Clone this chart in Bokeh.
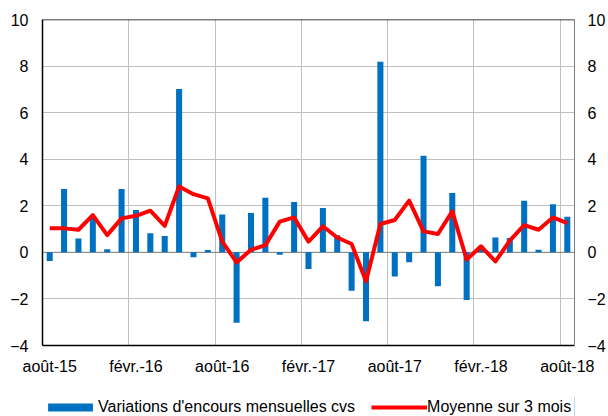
from bokeh.plotting import figure
from bokeh.layouts import column
from bokeh.models import (Range1d, LinearAxis, FixedTicker, Grid, Span, Legend,
                          LegendItem, ColumnDataSource)
from bokeh.embed import file_html
from bokeh.resources import INLINE

# --- data -------------------------------------------------------------
month_abbr = ["janv.", "févr.", "mars", "avr.", "mai", "juin",
              "juil.", "août", "sept.", "oct.", "nov.", "déc."]
months = []
for yy in (15, 16, 17, 18):
    for m in month_abbr:
        months.append(f"{m}-{yy}")
months = months[7:7 + 37]  # août-15 .. août-18

bar_values = [-0.37, 2.72, 0.59, 1.49, 0.13, 2.72, 1.82, 0.82, 0.70, 7.02,
              -0.21, 0.10, 1.63, -3.02, 1.69, 2.35, -0.10, 2.16, -0.72, 1.90,
              0.74, -1.65, -2.96, 8.19, -1.04, -0.43, 4.15, -1.46, 2.55, -2.05,
              0.28, 0.64, 0.62, 2.22, 0.11, 2.07, 1.53]
avg_values = [1.03, 1.03, 0.97, 1.60, 0.74, 1.46, 1.57, 1.79, 1.14, 2.83,
              2.50, 2.32, 0.46, -0.43, 0.11, 0.31, 1.32, 1.50, 0.46, 1.12,
              0.64, 0.36, -1.24, 1.22, 1.39, 2.22, 0.90, 0.79, 1.76, -0.31,
              0.26, -0.39, 0.50, 1.17, 0.97, 1.50, 1.26]
y_ticks = [-4, -2, 0, 2, 4, 6, 8, 10]
label_step = 6

bar_name = "Variations d'encours mensuelles cvs"
avg_name = "Moyenne sur 3 mois"

BAR_COLOR = "#0070c0"
LINE_COLOR = "#ff0000"
FONT = "Liberation Sans"

# --- main chart -------------------------------------------------------
x_idx = list(range(len(months)))
src = ColumnDataSource(dict(x=x_idx, month=months, bar=bar_values, avg=avg_values))

p = figure(width=608, height=396, output_backend="svg", toolbar_location=None,
           x_range=Range1d(-0.5, len(months) - 0.5),
           y_range=Range1d(min(y_ticks), max(y_ticks)),
           x_axis_type=None, y_axis_type=None,
           min_border_left=42, min_border_right=32, min_border_top=19,
           min_border_bottom=51)
p.outline_line_color = None
p.background_fill_color = "white"
p.border_fill_color = "white"

label_ticks = x_idx[::label_step]
boundary_ticks = [i - 0.5 for i in label_ticks[1:]]

p.add_layout(Grid(dimension=1, ticker=FixedTicker(ticks=y_ticks),
                  grid_line_color="#c0c0c0", grid_line_width=1))
p.add_layout(Grid(dimension=0, ticker=FixedTicker(ticks=boundary_ticks),
                  grid_line_color="#c0c0c0", grid_line_width=1))

bars = p.vbar(x="x", top="bar", width=0.42, source=src,
              fill_color=BAR_COLOR, line_color=None)
p.add_layout(Span(location=0, dimension="width", line_color="#808080",
                  line_width=1, level="underlay"))
line = p.line(x="x", y="avg", source=src, line_color=LINE_COLOR,
              line_width=4, line_join="round")


def style_axis(ax, standoff):
    ax.major_tick_out = 0
    ax.major_tick_in = 0
    ax.minor_tick_out = 0
    ax.minor_tick_in = 0
    ax.major_label_standoff = standoff
    ax.major_label_text_font = FONT
    ax.major_label_text_font_size = "16px"
    ax.major_label_text_color = "#000000"


xaxis = LinearAxis(ticker=FixedTicker(ticks=label_ticks),
                   major_label_overrides={i: months[i] for i in label_ticks})
style_axis(xaxis, 12)
xaxis.axis_line_color = "black"
xaxis.axis_line_width = 1.5
p.add_layout(xaxis, "below")

yl = LinearAxis(ticker=FixedTicker(ticks=y_ticks))
style_axis(yl, 14)
yl.axis_line_color = "black"
yl.axis_line_width = 1.5
p.add_layout(yl, "left")

yr = LinearAxis(ticker=FixedTicker(ticks=y_ticks))
style_axis(yr, 13)
yr.axis_line_color = "#808080"
yr.axis_line_width = 1
p.add_layout(yr, "right")

p.add_layout(Span(location=max(y_ticks), dimension="width",
                  line_color="black", line_width=1.5))

# --- legend strip (its frame is aligned with the chart's frame) -------
lg = figure(width=608, height=20, output_backend="svg", toolbar_location=None,
            x_range=Range1d(0, 1), y_range=Range1d(0, 1),
            x_axis_type=None, y_axis_type=None, min_border=0)
lg.outline_line_color = None
lg.background_fill_color = "white"
lg.border_fill_color = "white"
# legend swatches: one point each, placed outside the strip's visible range
lbar = lg.vbar(x=[5], top=[1], width=0.5, fill_color=BAR_COLOR, line_color=None)
lline = lg.line(x=[5, 6], y=[0, 0], line_color=LINE_COLOR, line_width=4)

legend = Legend(items=[LegendItem(label=bar_name, renderers=[lbar]),
                       LegendItem(label=avg_name, renderers=[lline])],
                orientation="horizontal", location=(0, 0),
                padding=0, margin=0, spacing=16,
                glyph_width=56, glyph_height=10, label_standoff=0,
                label_text_font=FONT, label_text_font_size="16px",
                label_text_color="#000000", label_height=10,
                border_line_color=None, background_fill_alpha=0)
lg.add_layout(legend, "center")

open("out.html", "w").write(file_html(column(p, lg, spacing=0), INLINE))
